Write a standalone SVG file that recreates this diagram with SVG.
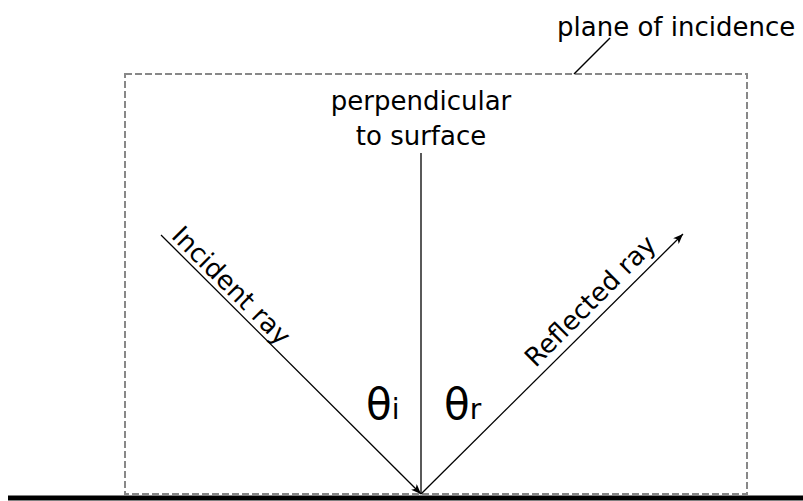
<svg xmlns="http://www.w3.org/2000/svg" width="803" height="501" viewBox="0 0 803 501">
  <style>
    text { font-family: "DejaVu Sans", Verdana, sans-serif; fill: #000; }
    .lbl { font-size: 26px; }
    .theta { font-size: 42px; }
    .sub { font-size: 28px; }
    .ray { stroke: #000; stroke-width: 1.3; fill: none; }
    .plane { stroke: #888; stroke-width: 2; stroke-dasharray: 7 3; fill: none; }
  </style>
  <defs>
    <marker id="arrow" viewBox="0 0 10 8" refX="10" refY="4" markerWidth="10" markerHeight="8" markerUnits="userSpaceOnUse" orient="auto">
      <path d="M0,0 L10,4 L0,8 L2.5,4 Z" fill="#000"/>
    </marker>
  </defs>

  <g id="plane">
    <rect class="plane" x="125" y="74" width="622" height="420"/>
    <line x1="574" y1="74" x2="610" y2="38" stroke="#000" stroke-width="1.5"/>
    <text class="lbl" x="557" y="36">plane of incidence</text>
  </g>

  <g id="surface">
    <line x1="8" y1="498" x2="803" y2="498" stroke="#000" stroke-width="5"/>
  </g>

  <g id="connectors">
    <line id="incident" class="ray" x1="161" y1="235" x2="421" y2="494" marker-end="url(#arrow)"/>
    <line id="normal" class="ray" x1="421" y1="153" x2="421" y2="494"/>
    <line id="reflected" class="ray" x1="421" y1="494" x2="683" y2="234" marker-end="url(#arrow)"/>
  </g>

  <g id="perpendicular-label">
    <text class="lbl" x="421" y="110" text-anchor="middle">perpendicular</text>
    <text class="lbl" x="421" y="145" text-anchor="middle">to surface</text>
  </g>

  <g id="incident-label">
    <text class="lbl" transform="translate(161,235) rotate(45)" x="8" y="-5">Incident ray</text>
  </g>

  <g id="reflected-label">
    <text class="lbl" transform="translate(421,494) rotate(-45)" x="170" y="-8">Reflected ray</text>
  </g>

  <g id="theta-i">
    <text x="366" y="419"><tspan class="theta">θ</tspan><tspan class="sub">i</tspan></text>
  </g>

  <g id="theta-r">
    <text x="444" y="419"><tspan class="theta">θ</tspan><tspan class="sub">r</tspan></text>
  </g>
</svg>
